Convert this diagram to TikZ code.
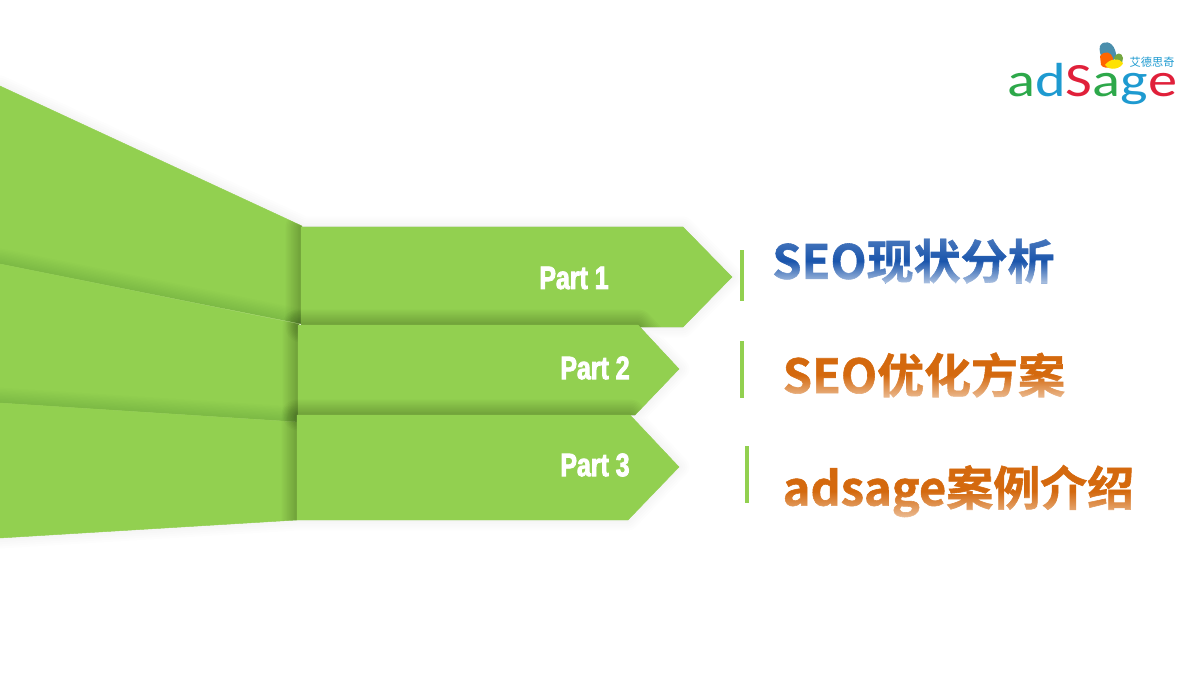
\documentclass[tikz,border=0pt]{standalone}
\usepackage{fontspec}
\setmainfont{Liberation Sans}
\newfontfamily\headfont[BoldFont={Noto Sans CJK SC Bold},BoldFeatures={FakeBold=1.2}]{Noto Sans CJK SC}
\newfontfamily\partfont[FakeStretch=0.77,FakeBold=2.6]{Liberation Sans Bold}
\newfontfamily\logofont[FakeStretch=1.22]{Carlito}
\usetikzlibrary{fadings}
\definecolor{leafgreen}{HTML}{92D050}
\definecolor{seoblue}{HTML}{1A55AC}
\definecolor{seoorange}{HTML}{D4690E}
\definecolor{logogreen}{HTML}{2DA84A}
\definecolor{logoblue}{HTML}{1E9AD0}
\definecolor{logored}{HTML}{E0203A}
\tikzfading[name=bluefade, top color=transparent!80, bottom color=transparent!35, middle color=transparent!100]
\tikzfading[name=orangefade, top color=transparent!100, bottom color=transparent!45, middle color=transparent!100]
% faint glow on the white, stronger shadow only where it falls on green
\newcommand{\greenarea}{(0,86) -- (302,226) -- (302,324) -- (0,264) -- cycle
  (0,264) -- (299,324) -- (299,422) -- (0,403) -- cycle
  (0,403) -- (297,422) -- (297,520) -- (0,538) -- cycle
  (301,227) -- (683,227) -- (732,277) -- (683,327) -- (301,327) -- cycle
  (298,325) -- (638,325) -- (679,369) -- (635,415) -- (298,415) -- cycle}
\newcommand{\softshadow}[2]{\begin{scope}\clip \greenarea;\foreach \w in {2,4,...,22} {\draw[black,opacity=#1,line width=\w pt,line join=round] #2;}\end{scope}}
\newcommand{\softglow}[1]{\foreach \w in {3,6,...,15} {\draw[black,opacity=.008,line width=\w pt,line join=round] #1;}}
\tikzset{
  band/.style={fill=leafgreen,draw=leafgreen,line width=.3pt},
  tick/.style={fill=leafgreen},
  partlabel/.style={text=white,font=\partfont\fontsize{23}{23}\selectfont,inner sep=0pt},
  headlabel/.style={anchor=west,inner sep=0pt,font=\headfont\bfseries\fontsize{33.4}{34}\selectfont}
}
\begin{document}
\begin{tikzpicture}[x=0.025cm,y=-0.025cm]
   \useasboundingbox (0,0) rectangle (1200,675);
   \clip (0,0) rectangle (1200,675);
   % glow on the background
   \softglow{(0,86) -- (302,226) -- (301,227) -- (683,227) -- (732,277) -- (683,327) -- (638,327) -- (679,369) -- (635,415) -- (630,415) -- (679,467) -- (628,520) -- (297,520) -- (0,538) -- cycle}
   % left fan
   \fill[band] (0,86) -- (302,226) -- (302,324) -- (0,264) -- cycle;
   \softshadow{.006}{(0,264) -- (299,324) -- (299,422) -- (0,403) -- cycle}
   \fill[band] (0,264) -- (299,324) -- (299,422) -- (0,403) -- cycle;
   \softshadow{.006}{(0,403) -- (297,422) -- (297,520) -- (0,538) -- cycle}
   \fill[band] (0,403) -- (297,422) -- (297,520) -- (0,538) -- cycle;
   % arrows
   \softshadow{.02}{(301,227) -- (683,227) -- (732,277) -- (683,327) -- (301,327) -- cycle}
   \fill[band] (301,227) -- (683,227) -- (732,277) -- (683,327) -- (301,327) -- cycle;
   \softshadow{.02}{(298,325) -- (638,325) -- (679,369) -- (635,415) -- (298,415) -- cycle}
   \fill[band] (298,325) -- (638,325) -- (679,369) -- (635,415) -- (298,415) -- cycle;
   \softshadow{.02}{(297,415) -- (630,415) -- (679,467) -- (628,520) -- (297,520) -- cycle}
   \fill[band] (297,415) -- (630,415) -- (679,467) -- (628,520) -- (297,520) -- cycle;

   \node[partlabel] (part1) at (574,278) {Part 1};
   \node[partlabel] (part2) at (595,368) {Part 2};
   \node[partlabel] (part3) at (595,465) {Part 3};

   % ticks
   \fill[tick] (739.5,250) rectangle (743.5,301);
   \fill[tick] (739.5,341) rectangle (743.5,398);
   \fill[tick] (745,446) rectangle (749,503);

   % headings
   \node[headlabel,text=seoblue] (seo) at (772,261) {SEO现状分析};
   \node[headlabel,text=seoorange] (plan) at (782.5,375) {SEO优化方案};
   \node[headlabel,text=seoorange] (cases) at (782.5,491) {adsage案例介绍};
   \fill[white,path fading=bluefade] (seo.north west) rectangle (seo.south east);
   \fill[white,path fading=orangefade] (plan.north west) rectangle (plan.south east);
   \fill[white,path fading=orangefade] (cases.north west) rectangle (cases.south east);

   % logo
   \node[inner sep=0pt,anchor=base west,font=\logofont\fontsize{34}{34}\selectfont] (logo) at (1007,97)
     {\textcolor{logogreen}{a}\textcolor{logoblue}{d}\textcolor{logored}{S}\textcolor{logogreen}{a}\textcolor{logoblue}{g}\textcolor{logored}{e}};
   \node[inner sep=0pt,text=logoblue,font=\headfont\fontsize{8}{8}\selectfont] (logocn) at (1152,62) {艾德思奇};
   \fill[logoblue!55!gray] (1100,46) .. controls (1103,40) and (1112,41) .. (1115,50) .. controls (1117,55) and (1116,58) .. (1114,60) -- (1102,58) .. controls (1100,54) and (1099,50) .. (1100,46) -- cycle;
   \fill[orange!80!red] (1100,56) .. controls (1105,50) and (1111,52) .. (1113,58) -- (1112,66) .. controls (1108,69) and (1103,68) .. (1101,65) -- cycle;
   \fill[leafgreen!80!black] (1114,58) .. controls (1116,52) and (1122,52) .. (1123,58) -- (1122,63) -- (1116,62) -- cycle;
   \fill[yellow!85!orange] (1105,65) .. controls (1110,58) and (1120,58) .. (1123,63) .. controls (1122,68) and (1110,72) .. (1105,65) -- cycle;
\end{tikzpicture}
\end{document}
